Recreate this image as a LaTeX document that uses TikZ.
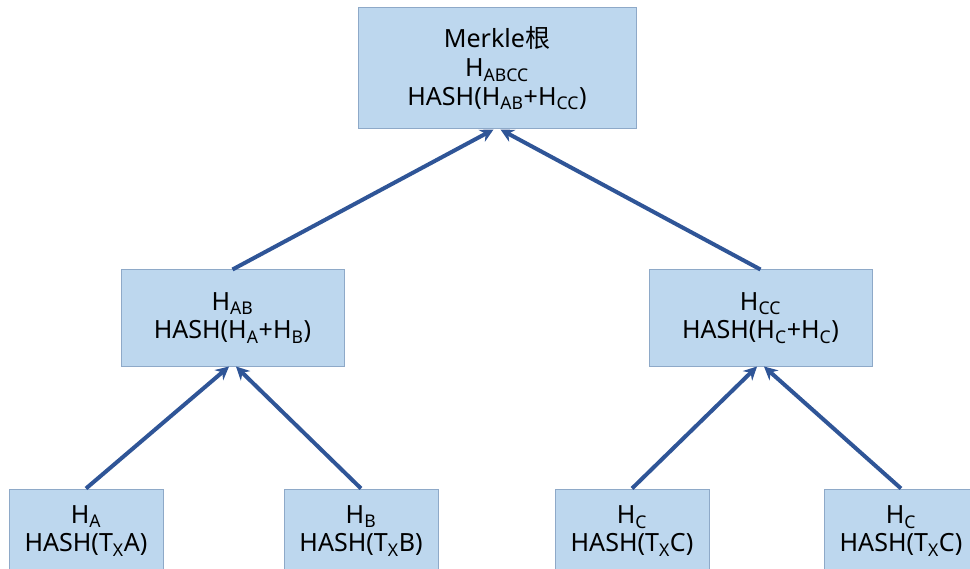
\documentclass[tikz,border=0pt]{standalone}
\usepackage{fontspec}
\setmainfont{Noto Sans}
\newfontfamily\cjk{Noto Sans CJK SC}
\usetikzlibrary{arrows.meta}
\definecolor{boxfill}{HTML}{BDD7EE}
\definecolor{boxline}{HTML}{8EA9C8}
\definecolor{arrowblue}{HTML}{2F5597}

\begin{document}
\begin{tikzpicture}[x=0.75pt,y=0.75pt,
  hashbox/.style={draw=boxline,fill=boxfill,line width=0.75pt,align=center,inner sep=0pt,
    minimum height=72pt,font=\fontsize{18.8}{21.5}\selectfont},
  leafbox/.style={hashbox,minimum width=115.5pt,minimum height=63pt},
  midbox/.style={hashbox,minimum width=167.25pt},
  uparrow/.style={draw=arrowblue,line width=3pt,-{Stealth[length=10pt,width=10pt]}}]
  \useasboundingbox (0,0) rectangle (970,568);
  \clip (0,0) rectangle (970,568);
  % root of the tree
  \node[hashbox,minimum width=208.5pt,minimum height=90.75pt] (root) at (497,499.5)
    {Merkle{\cjk 根}\\H\textsubscript{ABCC}\\HASH(H\textsubscript{AB}+H\textsubscript{CC})};
  % middle level
  \node[midbox] (hab) at (232.5,250) {H\textsubscript{AB}\\HASH(H\textsubscript{A}+H\textsubscript{B})};
  \node[midbox] (hcc) at (760.5,250) {H\textsubscript{CC}\\HASH(H\textsubscript{C}+H\textsubscript{C})};
  % leaves
  \node[leafbox] (ha) at (86,37) {H\textsubscript{A}\\HASH(T\textsubscript{X}A)};
  \node[leafbox] (hb) at (361,37) {H\textsubscript{B}\\HASH(T\textsubscript{X}B)};
  \node[leafbox] (hc) at (632,37) {H\textsubscript{C}\\HASH(T\textsubscript{X}C)};
  \node[leafbox] (hd) at (901,37) {H\textsubscript{C}\\HASH(T\textsubscript{X}C)};
  % hash arrows
  \draw[uparrow] (hab.north) -- ([xshift=-2.6pt]root.south);
  \draw[uparrow] (hcc.north) -- ([xshift=2.6pt]root.south);
  \draw[uparrow] (ha.north) -- ([xshift=-2.6pt]hab.south);
  \draw[uparrow] (hb.north) -- ([xshift=2.6pt]hab.south);
  \draw[uparrow] (hc.north) -- ([xshift=-2.6pt]hcc.south);
  \draw[uparrow] (hd.north) -- ([xshift=2.6pt]hcc.south);
\end{tikzpicture}
\end{document}
